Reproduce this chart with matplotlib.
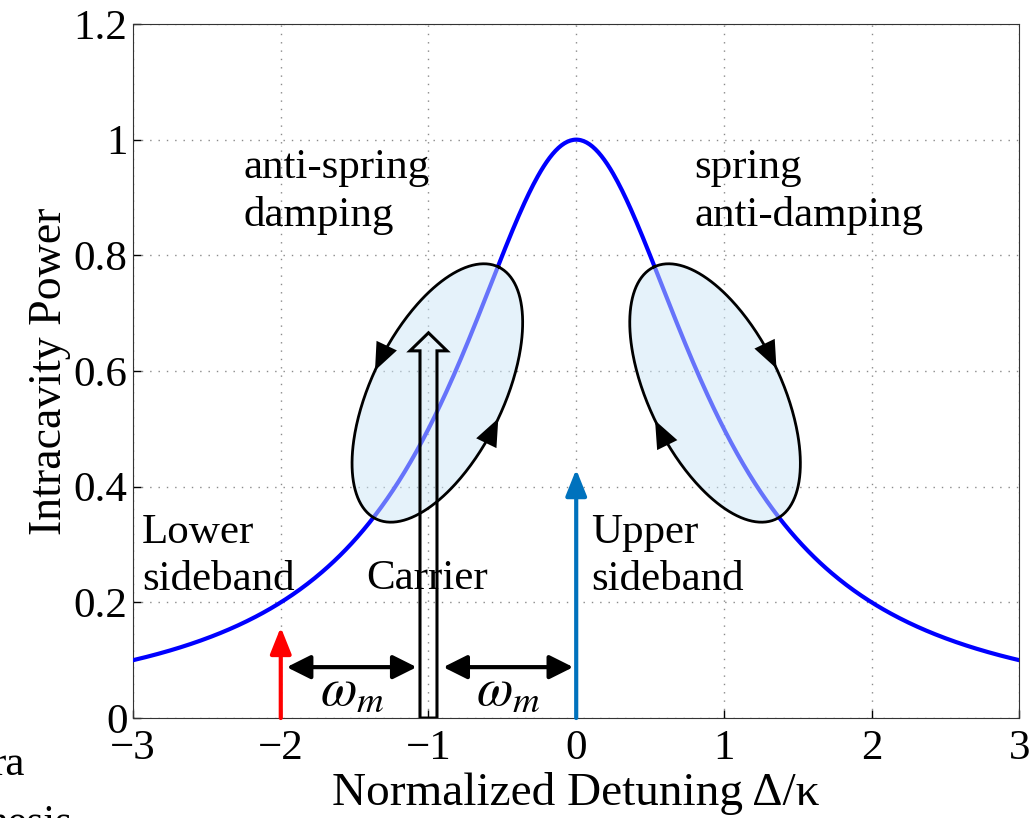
import numpy as np
from matplotlib import pyplot as plt
from matplotlib.patches import FancyArrow, Polygon

# data
detuning = np.linspace(-3, 3, 601)
power = 1.0 / (1.0 + detuning ** 2)   # Lorentzian cavity response

x_ticks = [-3, -2, -1, 0, 1, 2, 3]
y_ticks = [0, 0.2, 0.4, 0.6, 0.8, 1.0, 1.2]

lower_x, lower_h = -2.0, 0.157
carrier_x, carrier_h = -1.0, 0.666
upper_x, upper_h = 0.0, 0.43

omega_y = 0.088
ellipse_centres = [(-0.94, 0.562), (0.94, 0.562)]
# where the circulation arrows sit on each ellipse (data units)
loop_arrows = [[(-1.353, 0.611), (-0.541, 0.507)], [(1.333, 0.616), (0.541, 0.502)]]

plt.rcParams['font.family'] = ['Liberation Serif', 'DejaVu Serif']
plt.rcParams['mathtext.fontset'] = 'stix'

fig = plt.figure(figsize=(10.33, 8.18), dpi=100)
ax = fig.add_axes([0.1288, 0.1222, 0.858, 0.8485])

ax.plot(detuning, power, color=(0, 0, 1), lw=3, zorder=3)

ax.set_xlim(-3, 3)
ax.set_ylim(0, 1.2)
ax.set_xticks(x_ticks)
ax.set_yticks(y_ticks)
ax.set_yticklabels(['0', '0.2', '0.4', '0.6', '0.8', '1', '1.2'])
ax.set_xticklabels(['\u22123', '\u22122', '\u22121', '0', '1', '2', '3'])
ax.tick_params(direction='in', labelsize=31, length=6, width=1, pad=4)
ax.tick_params(axis='x', pad=8)
ax.grid(True, linestyle=(0, (1, 5)), color='#8a8a8a', lw=1)
for s in ax.spines.values():
    s.set_color('#333333')
ax.set_xlabel('Normalized Detuning \u0394/\u03ba', fontsize=34, labelpad=3)
ax.set_ylabel('Intracavity Power', fontsize=33, labelpad=2)

# ellipses drawn in pixel sizes then mapped to data units
px_x = 147.8
px_y = 578.0
a, b = 140.0, 66.0
t = np.linspace(0, 2 * np.pi, 400)
for (cx, cy), ang, marks, step in zip(ellipse_centres, [64, 116], loop_arrows, [1, -1]):
    th = np.radians(ang)
    ex = cx + (a * np.cos(th) * np.cos(t) - b * np.sin(th) * np.sin(t)) / px_x
    ey = cy + (a * np.sin(th) * np.cos(t) + b * np.cos(th) * np.sin(t)) / px_y
    ax.add_patch(Polygon(np.column_stack([ex, ey]), closed=True,
                         facecolor=(0.8, 0.9, 0.97), alpha=0.5, edgecolor='none', zorder=4))
    ax.plot(ex, ey, color='black', lw=2, zorder=5)
    # direction arrows
    for mx, my in marks:
        d = ((ex - mx) * px_x) ** 2 + ((ey - my) * px_y) ** 2
        i = int(np.argmin(d))
        j = (i + 3 * step) % len(t)
        ax.annotate('', xy=(ex[j], ey[j]), xytext=(ex[i], ey[i]),
                    arrowprops=dict(arrowstyle='-|>,head_length=1.1,head_width=0.45',
                                    mutation_scale=18, color='black', lw=0,
                                    shrinkA=0, shrinkB=0), zorder=6)

# sideband arrows
ax.annotate('', xy=(lower_x, lower_h), xytext=(lower_x, 0),
            arrowprops=dict(arrowstyle='-|>,head_length=1.0,head_width=0.4',
                            mutation_scale=16, color=(1, 0, 0), lw=3,
                            shrinkA=0, shrinkB=0), zorder=6)
ax.annotate('', xy=(upper_x, upper_h), xytext=(upper_x, 0),
            arrowprops=dict(arrowstyle='-|>,head_length=1.0,head_width=0.4',
                            mutation_scale=16, color='#0072BD', lw=3,
                            shrinkA=0, shrinkB=0), zorder=6)

# carrier hollow arrow
ax.add_patch(FancyArrow(carrier_x, 0, 0, carrier_h, width=17 / px_x,
                        head_width=37 / px_x, head_length=18 / px_y,
                        length_includes_head=True, facecolor='none',
                        edgecolor='black', lw=2.2, zorder=7))

# omega_m spacing arrows
for x0, x1 in [(-1.96, -1.08), (-0.90, -0.02)]:
    ax.annotate('', xy=(x1, omega_y), xytext=(x0, omega_y),
                arrowprops=dict(arrowstyle='<|-|>,head_length=0.9,head_width=0.45',
                                mutation_scale=16, color='black', lw=3,
                                shrinkA=0, shrinkB=0), zorder=6)
    ax.text((x0 + x1) / 2, 0.045, r'$\omega_m$', fontsize=38, ha='center', va='center')

ax.text(-2.25, 0.91, 'anti-spring\ndamping', fontsize=31, ha='left', va='center', linespacing=1.3)
ax.text(0.80, 0.91, 'spring\nanti-damping', fontsize=31, ha='left', va='center', linespacing=1.3)
ax.text(-2.94, 0.28, 'Lower\nsideband', fontsize=31, ha='left', va='center', linespacing=1.3)
ax.text(-1.42, 0.24, 'Carrier', fontsize=31, ha='left', va='center')
ax.text(0.10, 0.28, 'Upper\nsideband', fontsize=31, ha='left', va='center', linespacing=1.3)

# clipped slide text at the bottom left
fig.text(25 / 1033, 1 - 775 / 818, 'ra', fontsize=31, ha='right', va='baseline')
fig.text(72 / 1033, 1 - 834 / 818, 'hesis', fontsize=31, ha='right', va='baseline')

fig.savefig('out.png', dpi=100)
